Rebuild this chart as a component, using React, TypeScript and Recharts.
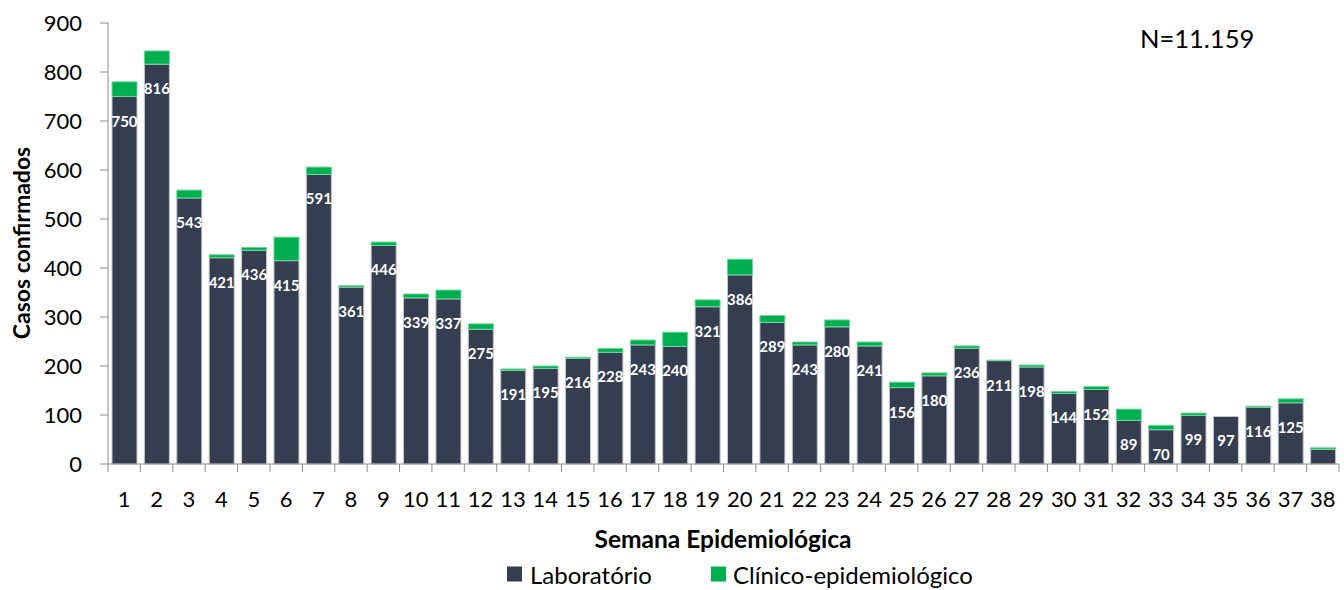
import { BarChart, Bar, XAxis, YAxis } from "recharts";

const weeks = [
  "1", "2", "3", "4", "5", "6", "7", "8", "9", "10",
  "11", "12", "13", "14", "15", "16", "17", "18", "19", "20",
  "21", "22", "23", "24", "25", "26", "27", "28", "29", "30",
  "31", "32", "33", "34", "35", "36", "37", "38",
];

const laboratorio = [
  750, 816, 543, 421, 436, 415, 591, 361, 446, 339,
  337, 275, 191, 195, 216, 228, 243, 240, 321, 386,
  289, 243, 280, 241, 156, 180, 236, 211, 198, 144,
  152, 89, 70, 99, 97, 116, 125, 30,
];

const clinico = [
  30, 27, 16, 6, 6, 48, 15, 3, 7, 8,
  18, 11, 3, 5, 2, 8, 10, 29, 14, 32,
  14, 6, 14, 8, 11, 6, 5, 1, 4, 4,
  6, 23, 9, 5, 0, 2, 8, 3,
];

const yTicks = [0, 100, 200, 300, 400, 500, 600, 700, 800, 900];

const DARK = "#353e50";
const GREEN = "#00b050";
const AXIS = "#8c8c8c";
const FONT = "Lato, 'Open Sans', sans-serif";

const data = weeks.map((w, i) => ({
  semana: w,
  lab: laboratorio[i],
  clin: clinico[i],
}));

const LabLabel = (props: any) => {
  const { x, y, width, value } = props;
  if (value < 50) return null;
  return (
    <text
      x={x + width / 2}
      y={y + 24}
      textAnchor="middle"
      dominantBaseline="central"
      fill="#ffffff"
      fontFamily={FONT}
      fontWeight={700}
      fontSize={15}
    >
      {value}
    </text>
  );
};

// week label plus Excel-style tick marks on the category boundaries
const WeekTick = (props: any) => {
  const { x, y, payload, index } = props;
  const half = payload.offset || 16;
  return (
    <g>
      {index === 0 && (
        <line x1={x - half} x2={x - half} y1={y} y2={y + 8} stroke={AXIS} strokeWidth={1} />
      )}
      <line x1={x + half} x2={x + half} y1={y} y2={y + 8} stroke={AXIS} strokeWidth={1} />
      <text
        x={x}
        y={y + 34}
        textAnchor="middle"
        dominantBaseline="central"
        fill="#000"
        fontFamily={FONT}
        fontSize={22}
      >
        {payload.value}
      </text>
    </g>
  );
};

export default function App() {
  return (
    <div
      style={{
        position: "absolute",
        left: 0,
        top: 0,
        width: 1344,
        height: 590,
        background: "#fff",
        fontFamily: FONT,
      }}
    >
      <BarChart
        width={1344}
        height={590}
        data={data}
        margin={{ top: 23, right: 5, left: 0, bottom: 86 }}
        barSize={25}
      >
        <XAxis
          dataKey="semana"
          stroke={AXIS}
          tickLine={false}
          tickSize={0}
          tickMargin={0}
          height={40}
          interval={0}
          tick={<WeekTick />}
        />
        <YAxis
          domain={[0, 900]}
          ticks={yTicks}
          width={108}
          tickSize={8}
          tickMargin={18}
          stroke={AXIS}
          tick={{ fill: "#000", fontSize: 22, fontFamily: FONT }}
        />
        <Bar
          dataKey="lab"
          stackId="a"
          fill={DARK}
          stroke="#c4c7cc"
          strokeWidth={1}
          isAnimationActive={false}
          label={<LabLabel />}
        />
        <Bar
          dataKey="clin"
          stackId="a"
          fill={GREEN}
          stroke="#6fd69a"
          strokeWidth={1}
          isAnimationActive={false}
        />
      </BarChart>

      <div
        style={{
          position: "absolute",
          left: 1140,
          top: 23,
          fontSize: 25.5,
          color: "#000",
          lineHeight: "30px",
        }}
      >
        N=11.159
      </div>

      <div
        style={{
          position: "absolute",
          left: 21,
          top: 243,
          transform: "translate(-50%, -50%) rotate(-90deg)",
          fontSize: 23,
          fontWeight: 700,
          whiteSpace: "nowrap",
          color: "#000",
        }}
      >
        Casos confirmados
      </div>

      <div
        style={{
          position: "absolute",
          left: 723,
          top: 538,
          transform: "translate(-50%, -50%)",
          fontSize: 24.5,
          fontWeight: 700,
          whiteSpace: "nowrap",
          color: "#000",
        }}
      >
        Semana Epidemiológica
      </div>

      <div
        style={{
          position: "absolute",
          left: 507,
          top: 574,
          transform: "translateY(-50%)",
          display: "flex",
          alignItems: "center",
          fontSize: 24,
          color: "#000",
          whiteSpace: "nowrap",
        }}
      >
        <span style={{ width: 15, height: 15, background: DARK, marginRight: 8, display: "inline-block" }} />
        Laboratório
      </div>
      <div
        style={{
          position: "absolute",
          left: 711,
          top: 574,
          transform: "translateY(-50%)",
          display: "flex",
          alignItems: "center",
          fontSize: 24,
          color: "#000",
          whiteSpace: "nowrap",
        }}
      >
        <span style={{ width: 15, height: 15, background: GREEN, marginRight: 7, display: "inline-block" }} />
        Clínico-epidemiológico
      </div>
    </div>
  );
}
